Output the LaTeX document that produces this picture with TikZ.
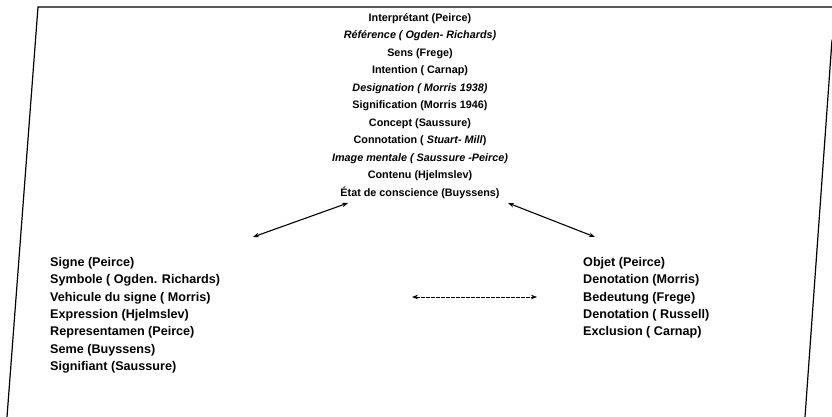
\documentclass[tikz,border=0pt]{standalone}
\usepackage{fontspec}
\setmainfont{Liberation Sans}
\usetikzlibrary{arrows.meta}
\begin{document}
\begin{tikzpicture}[x=1pt,y=1pt,
  frameline/.style={line width=1.2pt, line cap=round},
  conn/.style={line width=1.1pt, {Stealth[length=6pt,width=4.5pt]}-{Stealth[length=6pt,width=4.5pt]}},
  hconn/.style={line width=0.8pt, dash pattern=on 4pt off 1pt, {Stealth[length=6pt,width=4.5pt]}-{Stealth[length=6pt,width=4.5pt]}},
  topblock/.style={inner sep=0pt, align=center, font=\fontsize{10.8}{17.5}\selectfont\bfseries},
  sideblock/.style={inner sep=0pt, align=left, font=\fontsize{12.6}{17.4}\selectfont\bfseries}]
\useasboundingbox (0,0) rectangle (832,-417);
% frame
\coordinate (tl) at (38,-7);
\coordinate (tr) at (832,-7);
\coordinate (bl) at (7,-417);
\coordinate (rt) at (832,-40);
\coordinate (rb) at (805,-417);
\draw[frameline] (bl) -- (tl) -- (tr);
\draw[frameline] (rt) -- (rb);
% texts
\node[topblock, anchor=north] (interp) at (420,-13) {Interprétant (Peirce)\\
\textit{Référence ( Ogden- Richards)}\\
Sens (Frege)\\
Intention ( Carnap)\\
\textit{Designation ( Morris 1938)}\\
Signification (Morris 1946)\\
Concept (Saussure)\\
Connotation ( \textit{Stuart- Mill})\\
\textit{Image mentale ( Saussure -Peirce)}\\
Contenu (Hjelmslev)\\
État de conscience (Buyssens)};
\node[sideblock, anchor=north west] (signe) at (50,-257) {Signe (Peirce)\\
Symbole ( Ogden. Richards)\\
Vehicule du signe ( Morris)\\
Expression (Hjelmslev)\\
Representamen (Peirce)\\
Seme (Buyssens)\\
Signifiant (Saussure)};
\node[sideblock, anchor=north west] (objet) at (583,-257) {Objet (Peirce)\\
Denotation (Morris)\\
Bedeutung (Frege)\\
Denotation ( Russell)\\
Exclusion ( Carnap)};
% connectors
\coordinate (la) at (253,-237);
\coordinate (lb) at (348,-203);
\coordinate (ra) at (508,-203);
\coordinate (rb2) at (595,-237);
\coordinate (ha) at (412,-297);
\coordinate (hb) at (537,-297);
\draw[conn] (la) -- (lb);
\draw[conn] (ra) -- (rb2);
\draw[hconn] (ha) -- (hb);
\end{tikzpicture}
\end{document}
